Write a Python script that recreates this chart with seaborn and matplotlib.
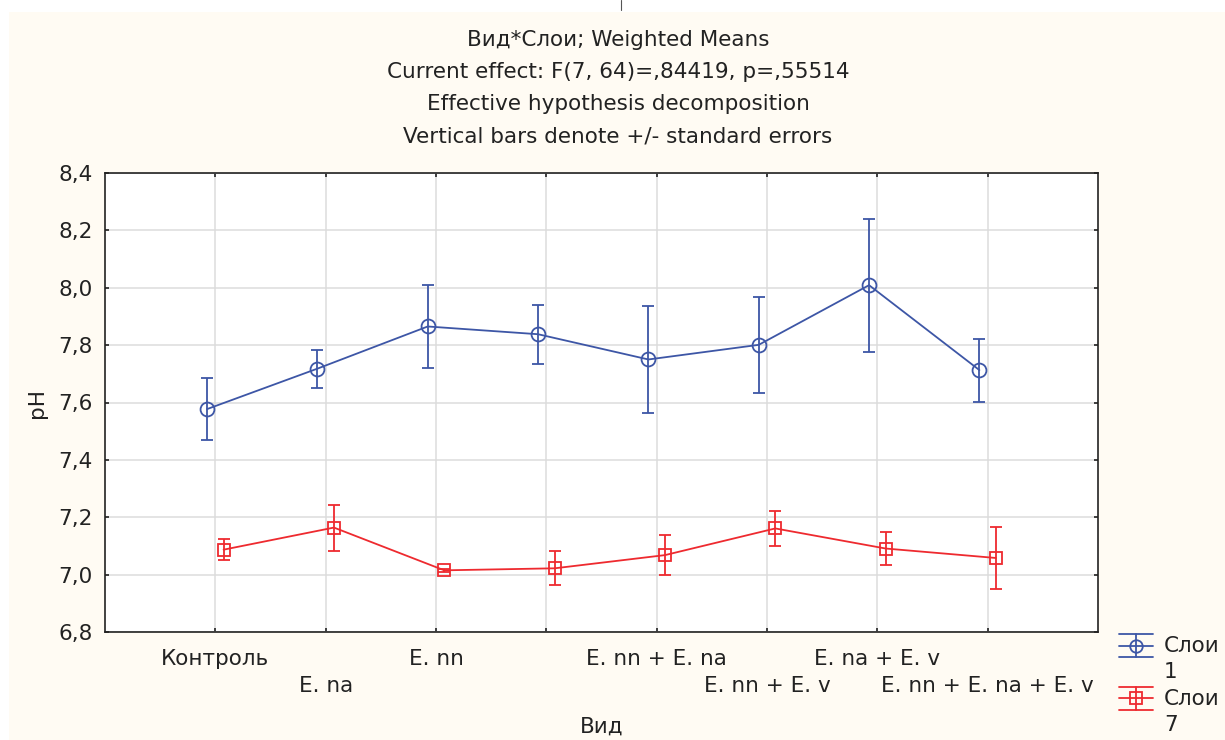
import numpy as np
import pandas as pd
import matplotlib
matplotlib.use("Agg")
import matplotlib.pyplot as plt
import seaborn as sns
from matplotlib.lines import Line2D
from matplotlib.patches import Rectangle
from matplotlib.transforms import ScaledTranslation

# data
categories = ["Контроль", "E. na", "E. nn", "", "E. nn + E. na",
              "E. nn + E. v", "E. na + E. v", "E. nn + E. na + E. v"]
layers = ["Слои\n1", "Слои\n7"]
mean_1 = [7.577, 7.718, 7.865, 7.838, 7.750, 7.801, 8.009, 7.713]
se_1 = [0.108, 0.066, 0.145, 0.103, 0.187, 0.167, 0.232, 0.110]
mean_7 = [7.087, 7.164, 7.015, 7.022, 7.068, 7.161, 7.091, 7.058]
se_7 = [0.036, 0.080, 0.006, 0.059, 0.071, 0.061, 0.057, 0.107]
y_ticks = [6.8, 7.0, 7.2, 7.4, 7.6, 7.8, 8.0, 8.2, 8.4]

title_lines = ["Вид*Слои; Weighted Means",
               "Current effect: F(7, 64)=,84419, p=,55514",
               "Effective hypothesis decomposition",
               "Vertical bars denote +/- standard errors"]

blue = "#3D56A6"
red = "#EE2A2F"
cream = "#FFFBF3"
ink = "#222222"
fs = 15.5

pos = np.arange(len(categories))
df = pd.DataFrame({
    "pos": np.concatenate([pos - 0.075, pos + 0.075]),
    "mean": mean_1 + mean_7,
    "se": se_1 + se_7,
    "layer": [layers[0]] * len(pos) + [layers[1]] * len(pos),
})

sns.set_style("white")
plt.rcParams["font.family"] = ["DejaVu Sans"]

fig = plt.figure(figsize=(12.25, 7.4), dpi=100, facecolor="white")
fig.patches.append(Rectangle((9 / 1225, 0), 1, 1 - 12 / 740, transform=fig.transFigure,
                             facecolor=cream, edgecolor="none", zorder=-10))
fig.add_artist(Line2D([621 / 1225] * 2, [1, 1 - 10 / 740], color="#555555", lw=0.8))
ax = fig.add_axes([105 / 1225, 1 - 632 / 740, 993 / 1225, 459 / 740])
ax.set_facecolor("white")

palette = {layers[0]: blue, layers[1]: red}
markers = {layers[0]: "o", layers[1]: "s"}
sns.lineplot(data=df, x="pos", y="mean", hue="layer", style="layer",
             palette=palette, markers=markers, dashes=False, markersize=10,
             linewidth=1.3, legend=False, ax=ax, zorder=3)
# open markers in the line colour
for ln in ax.lines:
    ln.set_markerfacecolor("none")
    ln.set_markeredgecolor(ln.get_color())
    ln.set_markeredgewidth(1.3)
ax.lines[1].set_markersize(8.5)

for lay in layers:
    sub = df[df["layer"] == lay]
    ax.errorbar(sub["pos"], sub["mean"], yerr=sub["se"], fmt="none",
                ecolor=palette[lay], elinewidth=1.3, capsize=4, capthick=1.3, zorder=3)

ax.set_xlim(-1, 8)
ax.set_ylim(6.8, 8.4)
ax.set_yticks(y_ticks)
ax.set_yticklabels([f"{v:.1f}".replace(".", ",") for v in y_ticks])
ax.set_xticks(pos)
ax.set_xticklabels(categories)
ax.grid(True, color="#DCDCDC", linewidth=1.1)
ax.set_axisbelow(True)
for sp in ax.spines.values():
    sp.set_visible(True)
    sp.set_color(ink)
    sp.set_linewidth(1.2)
ax.tick_params(axis="both", direction="in", length=3, width=1.2, color=ink,
               top=True, right=True, bottom=True, left=True)
ax.tick_params(axis="y", labelsize=fs, pad=9, labelcolor=ink)
ax.tick_params(axis="x", labelsize=fs, pad=12, labelcolor=ink)
for i, lbl in enumerate(ax.get_xticklabels()):
    if i % 2 == 1:
        lbl.set_transform(lbl.get_transform() + ScaledTranslation(0, -0.27, fig.dpi_scale_trans))

ax.set_xlabel("Вид", fontsize=fs, color=ink)
ax.set_ylabel("pH", fontsize=fs, color=ink)
ax.xaxis.set_label_coords(0.5, -0.185)
ax.yaxis.set_label_coords(-0.058, 0.5)

for i, line in enumerate(title_lines):
    fig.text(618 / 1225, 1 - (40 + 32 * i) / 740, line, ha="center", va="center",
             fontsize=fs, color=ink)


class ErrHandler:
    def legend_artist(self, legend, orig_handle, fontsize, handlebox):
        x0, y0 = -handlebox.xdescent, -handlebox.ydescent
        w, h = handlebox.width, handlebox.height
        c = orig_handle.get_color()
        cy = y0 + h / 2 + 10
        d = 8.3
        tr = handlebox.get_transform()
        arts = []
        for yy in (cy - d, cy, cy + d):
            arts.append(Line2D([x0, x0 + w], [yy, yy], color=c, lw=1.3, transform=tr))
        arts.append(Line2D([x0 + w / 2] * 2, [cy - d, cy + d], color=c, lw=1.3, transform=tr))
        arts.append(Line2D([x0 + w / 2], [cy], marker=orig_handle.get_marker(), markersize=9,
                           mfc="none", mec=c, mew=1.3, lw=0, transform=tr))
        for a in arts:
            handlebox.add_artist(a)
        return arts[0]


handles = [Line2D([], [], color=blue, marker="o"), Line2D([], [], color=red, marker="s")]
leg = fig.legend(handles, layers, handler_map={Line2D: ErrHandler()}, loc="upper left",
                 bbox_to_anchor=(1108 / 1225, 1 - 625 / 740), frameon=False, fontsize=fs,
                 handlelength=1.6, handletextpad=0.5, labelspacing=0.3, borderpad=0,
                 labelcolor=ink)
for t in leg.get_texts():
    t.set_linespacing(1.4)

fig.savefig("out.png", dpi=100, facecolor=fig.get_facecolor())
